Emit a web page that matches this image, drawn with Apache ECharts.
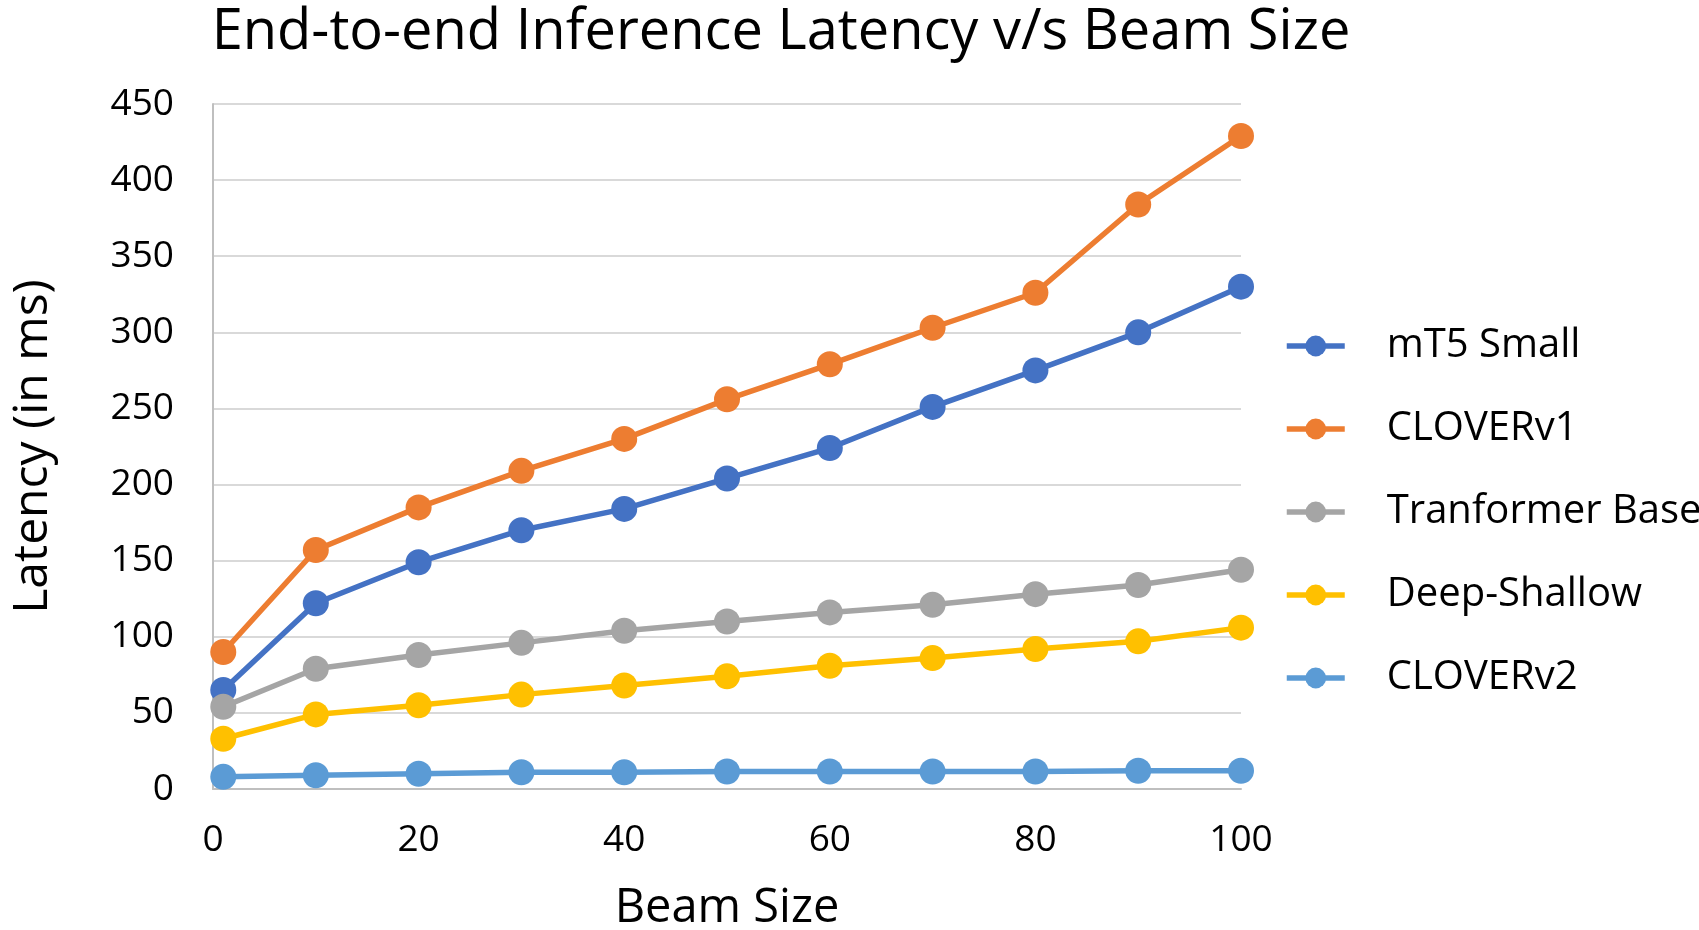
<!DOCTYPE html>
<html>
<head>
<meta charset="utf-8">
<script src="https://cdn.jsdelivr.net/npm/echarts@6/dist/echarts.min.js"></script>
<style>
    html, body { margin: 0; padding: 0; background: #fff; }
    #chart { width: 1699px; height: 930px; }
</style>
</head>
<body>
<div id="chart"></div>
<script>
// 数据
const beamSizes = [1, 10, 20, 30, 40, 50, 60, 70, 80, 90, 100];
const seriesNames = ['mT5 Small', 'CLOVERv1', 'Tranformer Base', 'Deep-Shallow', 'CLOVERv2'];
const mt5Small = [65, 122, 149, 170, 184, 204, 224, 251, 275, 300, 330];
const cloverV1 = [90, 157, 185, 209, 230, 256, 279, 303, 326, 384, 429];
const transformerBase = [54, 79, 88, 96, 104, 110, 116, 121, 128, 134, 144];
const deepShallow = [33, 49, 55, 62, 68, 74, 81, 86, 92, 97, 106];
const cloverV2 = [8, 9, 10, 11, 11, 11.5, 11.5, 11.5, 11.5, 12, 12];
const yTicks = [0, 50, 100, 150, 200, 250, 300, 350, 400, 450];

const colors = ['#4472C4', '#ED7D31', '#A5A5A5', '#FFC000', '#5B9BD5'];
const font = 'Open Sans';

const eChart = echarts.init(document.getElementById('chart'));

function makeSeries(name, values) {
    return {
        name: name,
        type: 'line',
        data: values.map((v, i) => [beamSizes[i], v]),
        symbol: 'circle',
        symbolSize: 26,
        lineStyle: { width: 5.5 },
        animation: false
    };
}

const option = {
    color: colors,
    title: {
        text: 'End-to-end Inference Latency v/s Beam Size',
        left: 776,
        textAlign: 'center',
        top: 0,
        textStyle: {
            fontFamily: font,
            fontSize: 56,
            fontWeight: 'normal',
            color: '#000'
        }
    },
    grid: {
        left: 213,
        right: 458,
        top: 104,
        bottom: 141,
        outerBoundsMode: 'none'
    },
    legend: {
        orient: 'vertical',
        left: 1279,
        top: 320,
        itemWidth: 58,
        itemHeight: 26,
        itemGap: 41,
        data: seriesNames,
        lineStyle: { width: 5.5 },
        textStyle: {
            fontFamily: font,
            fontSize: 40,
            lineHeight: 42,
            color: '#000',
            padding: [0, 0, 0, 37]
        }
    },
    xAxis: {
        type: 'value',
        min: 0,
        max: 100,
        interval: 20,
        name: 'Beam Size',
        nameLocation: 'middle',
        nameGap: 96,
        nameMoveOverlap: false,
        nameTextStyle: { fontFamily: font, fontSize: 47, color: '#000' },
        axisLine: { show: true, lineStyle: { color: '#BFBFBF', width: 2 } },
        axisTick: { show: false },
        splitLine: { show: false },
        axisLabel: { fontFamily: font, fontSize: 37, color: '#000', margin: 33 }
    },
    yAxis: {
        type: 'value',
        min: 0,
        max: 450,
        interval: 50,
        name: 'Latency (in ms)',
        nameLocation: 'middle',
        nameGap: 156,
        nameMoveOverlap: false,
        nameTextStyle: { fontFamily: font, fontSize: 48, color: '#000' },
        axisLine: { show: true, lineStyle: { color: '#BFBFBF', width: 2 } },
        axisTick: { show: false },
        splitLine: { show: true, lineStyle: { color: '#D9D9D9', width: 2 } },
        axisLabel: {
            fontFamily: font,
            fontSize: 37,
            color: '#000',
            margin: 39,
            formatter: v => (yTicks.indexOf(v) >= 0 ? String(v) : '')
        }
    },
    series: [
        makeSeries(seriesNames[0], mt5Small),
        makeSeries(seriesNames[1], cloverV1),
        makeSeries(seriesNames[2], transformerBase),
        makeSeries(seriesNames[3], deepShallow),
        makeSeries(seriesNames[4], cloverV2)
    ]
};
eChart.setOption(option);
</script>
</body>
</html>
